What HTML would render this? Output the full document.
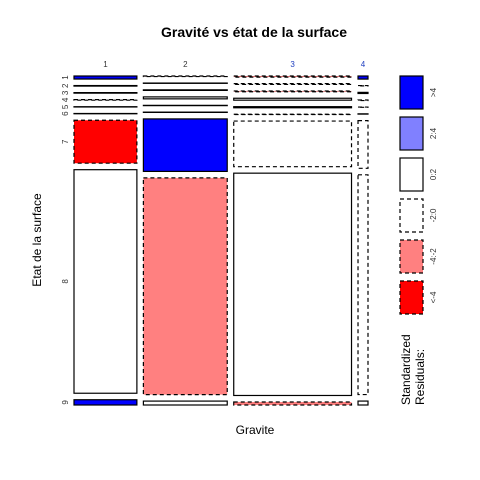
<!DOCTYPE html>
<html><head><meta charset="utf-8"><style>
body{margin:0;background:#fff}
svg{display:block;font-family:"Liberation Sans",sans-serif}
</style></head><body>
<svg id="c" width="480" height="480">
<text x="254" y="37" text-anchor="middle" font-weight="bold" font-size="14">Gravité vs état de la surface</text>
<text x="255" y="434" text-anchor="middle" font-size="12">Gravite</text>
<text transform="translate(41,240) rotate(-90)" text-anchor="middle" font-size="12">Etat de la surface</text>
<g id="marks"></g>
<g id="legend"></g>
</svg>
<script>
const colLabels=["1","2","3","4"];
const colWeights=[63,84,118,10];
const rowLabels=["1","2","3","4","5","6","7","8","9"];
const col1=[11,2,2,2,1,1,155,807,19];
const col2=[2,1,2,7,1,1,188,776,14];
const col3=[4,3,3,7,4,1,166,809,11];
const col4=[11,1,4,2,1,1,170,783,14];
const res1=[0,2,2,3,2,2,5,2,0];
const res2=[4,2,2,2,2,2,0,4,2];
const res3=[4,3,4,2,2,3,3,2,4];
const res4=[0,3,2,3,3,2,3,3,2];
const legendLabels=[">4","2:4","0:2","-2:0","-4:-2","<-4"];
const fills=["#0000ff","#8080ff","#ffffff","#ffffff","#ff8080","#ff0000"];
const dashed=[false,false,false,true,true,true];
const cols=[col1,col2,col3,col4], ress=[res1,res2,res3,res4];
const NS="http://www.w3.org/2000/svg";
const X0=74,X1=368,Y0=76,Y1=405,GX=6.5,GY=6.5;
const g=document.getElementById('marks');
function mk(t,a,p){const e=document.createElementNS(NS,t);for(const k in a)e.setAttribute(k,a[k]);(p||g).appendChild(e);return e;}
const wTot=colWeights.reduce((a,b)=>a+b,0);
const availW=(X1-X0)-GX*(colWeights.length-1);
let x=X0;
colWeights.forEach((w,i)=>{
  const cw=w/wTot*availW;
  const t=mk('text',{x:x+cw/2,y:67,'text-anchor':'middle','font-size':'8',fill:i>=2?'#2040c0':'#333'});
  t.textContent=colLabels[i];
  
  
  const vals=cols[i],tot=vals.reduce((a,b)=>a+b,0);
  const availH=(Y1-Y0)-GY*(vals.length-1);
  let y=Y0;
  vals.forEach((v,j)=>{
    const h=v/tot*availH;
    const r=ress[i][j];
    const rc=mk('rect',{x:x,y:y,width:cw,height:h,fill:fills[r],stroke:'#000','stroke-width':'1.2'});
    if(dashed[r])rc.setAttribute('stroke-dasharray','4,3');
    
    
    if(i===0){
      const lt=mk('text',{transform:`translate(${68},${y+h/2}) rotate(-90)`,'text-anchor':'middle','font-size':'8',fill:'#333'});
      lt.textContent=rowLabels[j];
      
      
    }
    y+=h+GY;
  });
  x+=cw+GX;
});
const lg=document.getElementById('legend');
legendLabels.forEach((l,i)=>{
  const y=76+i*41;
  const r=mk('rect',{x:400,y:y,width:23,height:33,fill:fills[i],stroke:'#000','stroke-width':'1.2'},lg);
  if(dashed[i])r.setAttribute('stroke-dasharray','4,3');
  
  
  const t=mk('text',{transform:`translate(436,${y+16.5}) rotate(-90)`,'text-anchor':'middle','font-size':'8',fill:'#333'},lg);
  t.textContent=l;
  
  
});
const s1=mk('text',{transform:'translate(410,405) rotate(-90)','font-size':'12'},lg);
s1.textContent='Standardized';


const s2=mk('text',{transform:'translate(424,405) rotate(-90)','font-size':'12'},lg);
s2.textContent='Residuals:';


</script>
</body></html>
